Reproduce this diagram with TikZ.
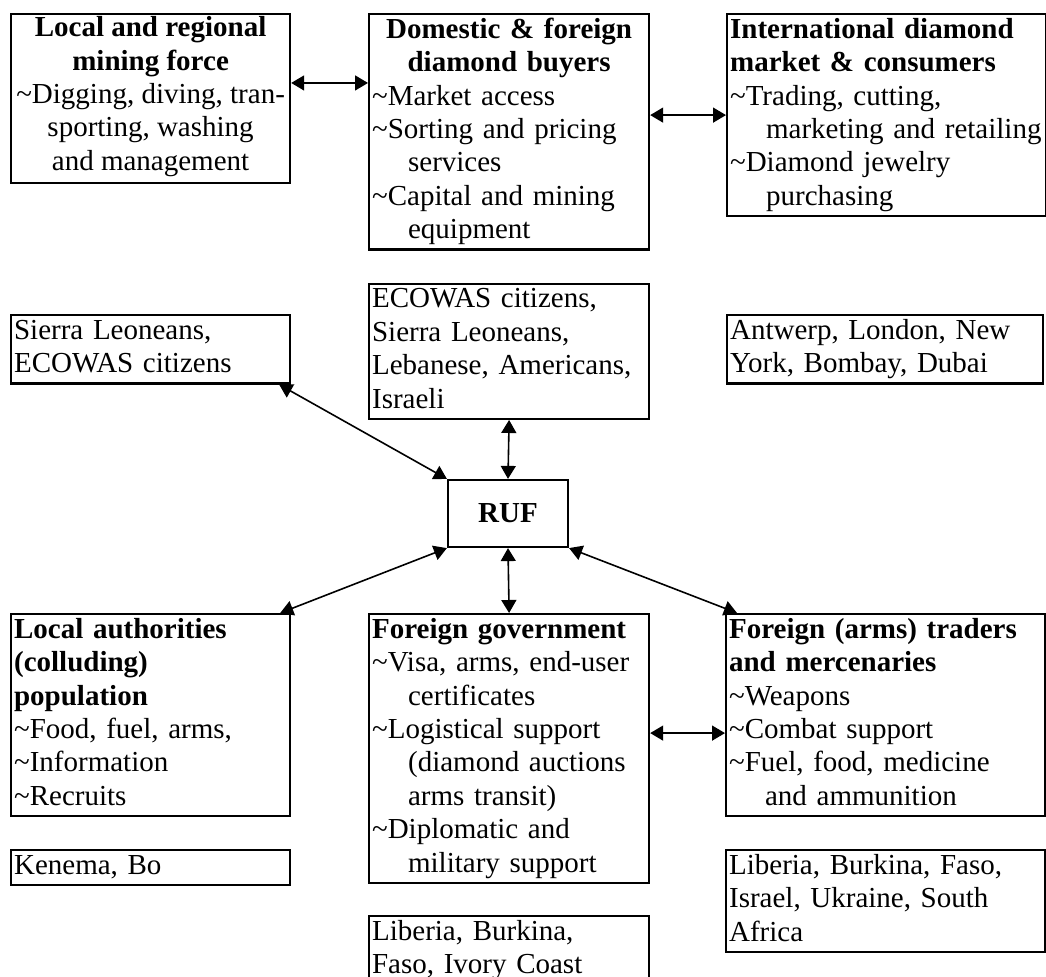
\documentclass[tikz,border=0pt]{standalone}
\usepackage{fontspec}
\setmainfont{Liberation Serif}
\usetikzlibrary{positioning,arrows.meta}
\newcommand{\tld}{\textasciitilde}
\newcommand{\indnt}{\hspace*{18pt}}
\newcommand{\boxfont}{\fontsize{14.5}{16.7}\selectfont}

\begin{document}
\begin{tikzpicture}[x=0.5pt, y=-0.5pt,
                node distance=16pt,
                actor/.style={draw, line width=1.1pt, inner xsep=1.5pt, inner ysep=0.4pt,
                              align=left, font=\boxfont,
                              execute at begin node=\strut, execute at end node=\strut},
                narrow/.style={actor, text width=136.5pt},
                middle/.style={actor, text width=137pt},
                wide/.style={actor, text width=156.5pt},
                hub/.style={draw, line width=1.1pt, minimum width=60pt,
                            minimum height=33.5pt, font=\boxfont\bfseries},
                link/.style={<->, >={Triangle[length=6.5pt,width=7.5pt]}, line width=0.8pt}
            ]
                \useasboundingbox (0,0) rectangle (1046,977);
                % top row
                \node[actor, align=center, minimum width=139.5pt, inner ysep=1.2pt,
                      anchor=north west] (mining) at (10,13)
                    {\textbf{Local and regional}\\ \textbf{mining force}\\
                     \tld Digging, diving, tran-\\ sporting, washing\\ and management};
                \node[middle, anchor=north west] (buyers) at (368,13)
                    {{\centering\textbf{Domestic \& foreign}\\ \textbf{diamond buyers}\par}%
                     \tld Market access\\ \tld Sorting and pricing\\ \indnt services\\
                     \tld Capital and mining\\ \indnt equipment};
                \node[wide, anchor=north west] (market) at (726,13)
                    {\textbf{International diamond}\\ \textbf{market \& consumers}\\
                     \tld Trading, cutting,\\ \indnt marketing and retailing\\
                     \tld Diamond jewelry\\ \indnt purchasing};
                % where they come from
                \node[narrow, anchor=north west] (sierra) at (10,314)
                    {Sierra Leoneans,\\ ECOWAS citizens};
                \node[middle, below=of buyers] (ecowas)
                    {ECOWAS citizens,\\ Sierra Leoneans,\\ Lebanese, Americans,\\ Israeli};
                \node[wide, text width=155pt, anchor=north west] (antwerp) at (726,314)
                    {Antwerp, London, New\\ York, Bombay, Dubai};
                \node[hub] (ruf) at (508,513.5) {RUF};
                % bottom row
                \node[narrow, anchor=north west] (authorities) at (10,613)
                    {\textbf{Local authorities}\\ \textbf{(colluding)}\\ \textbf{population}\\
                     \tld Food, fuel, arms,\\ \tld Information\\ \tld Recruits};
                \node[middle, anchor=north west] (government) at (368,613)
                    {\textbf{Foreign government}\\ \tld Visa, arms, end-user\\ \indnt certificates\\
                     \tld Logistical support\\ \indnt (diamond auctions\\ \indnt arms transit)\\
                     \tld Diplomatic and\\ \indnt military support};
                \node[wide, anchor=north west] (traders) at (725,613)
                    {\textbf{Foreign (arms) traders}\\ \textbf{and mercenaries}\\
                     \tld Weapons\\ \tld Combat support\\ \tld Fuel, food, medicine\\
                     \indnt and ammunition};
                \node[narrow, below=of authorities] (kenema) {Kenema, Bo};
                \node[middle, below=15.5pt of government] (liberiaM)
                    {Liberia, Burkina,\\ Faso, Ivory Coast};
                \node[wide, below=of traders] (liberiaR)
                    {Liberia, Burkina, Faso,\\ Israel, Ukraine, South\\ Africa};
                % connectors
                \draw[link] ([yshift=7.7pt]mining.east) -- ([yshift=7.7pt]mining.east -| buyers.west);
                \draw[link] (buyers.east |- market.west) -- (market.west);
                \draw[link] ([xshift=-6pt]sierra.south east) -- (ruf.north west);
                \draw[link] (ecowas.south) -- (ruf.north);
                \draw[link] (ruf.south) -- (government.north);
                \draw[link] (ruf.south west) -- ([xshift=-5.5pt]authorities.north east);
                \draw[link] (ruf.south east) -- ([xshift=6pt]traders.north west);
                \draw[link] ([yshift=-9pt]traders.west) -- ([yshift=-9pt]traders.west -| government.east);
            \end{tikzpicture}
\end{document}
